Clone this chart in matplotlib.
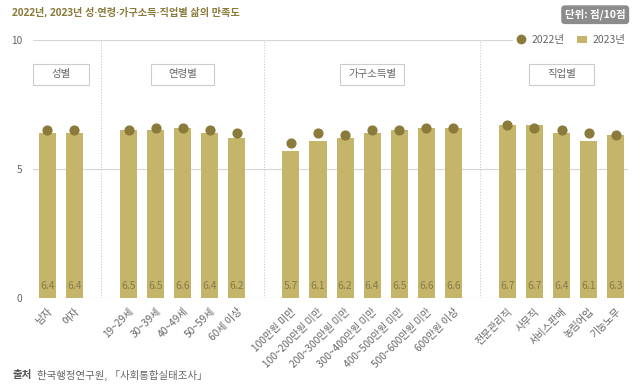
import numpy as np
import matplotlib.pyplot as plt
from matplotlib.lines import Line2D
from matplotlib.patches import Patch, Rectangle

plt.rcParams['font.family'] = ['Noto Sans CJK KR', 'DejaVu Sans']

# data
groups = ['성별', '연령별', '가구소득별', '직업별']
group_labels = [
    ['남자', '여자'],
    ['19~29세', '30~39세', '40~49세', '50~59세', '60세 이상'],
    ['100만원 미만', '100~200만원 미만', '200~300만원 미만', '300~400만원 미만',
     '400~500만원 미만', '500~600만원 미만', '600만원 이상'],
    ['전문관리직', '사무직', '서비스판매', '농림어업', '기능노무'],
]
val_2022 = [6.5, 6.5,
            6.5, 6.6, 6.6, 6.5, 6.4,
            6.0, 6.4, 6.3, 6.5, 6.5, 6.6, 6.6,
            6.7, 6.6, 6.5, 6.4, 6.3]
val_2023 = [6.4, 6.4,
            6.5, 6.5, 6.6, 6.4, 6.2,
            5.7, 6.1, 6.2, 6.4, 6.5, 6.6, 6.6,
            6.7, 6.7, 6.4, 6.1, 6.3]

bar_col = '#c5b56b'
dot_col = '#8a7b3a'
title_col = '#8a7b3a'
txt_col = '#666666'
box_w = [2.05, 2.35, 2.35, 2.4]   # group label box widths (slots)

# positions: one empty slot between groups
xs, labels, seps, centers = [], [], [], []
pos = 0
for gi, gl in enumerate(group_labels):
    start = pos
    for lab in gl:
        xs.append(pos)
        labels.append(lab)
        pos += 1
    centers.append((start + pos - 1) / 2)
    if gi < len(group_labels) - 1:
        seps.append(pos)
        pos += 1
xs = np.array(xs)

fig = plt.figure(figsize=(6.4, 3.87), dpi=100)
ax = fig.add_axes([0.052, 0.23, 0.929, 0.667])

ax.bar(xs, val_2023, width=0.63, color=bar_col, zorder=2)
ax.scatter(xs, val_2022, s=40, color=dot_col, zorder=3)

for x, v in zip(xs, val_2023):
    ax.text(x, 0.45, '%.1f' % v, ha='center', va='center', fontsize=7.5,
            color='#877c4a', zorder=4)

for s in seps:
    ax.axvline(s, color='#cccccc', linestyle=(0, (1, 1.5)), linewidth=0.8, zorder=1)

for yv in [0, 5, 10]:
    ax.axhline(yv, color='#d6d6d6', linewidth=0.8, zorder=1)

for g, c, w in zip(groups, centers, box_w):
    ax.add_patch(Rectangle((c - w / 2, 8.25), w, 0.82, fc='white', ec='#cccccc',
                           lw=0.8, zorder=5))
    ax.text(c, 8.66, g, ha='center', va='center', fontsize=7.5, color=txt_col,
            zorder=6)

ax.set_xlim(-0.52, xs[-1] + 0.45)
ax.set_ylim(0, 10)
ax.set_yticks([0, 5, 10])
ax.set_xticks(xs)
ax.set_xticklabels(labels, rotation=45, ha='right', rotation_mode='anchor',
                   fontsize=7.3, color=txt_col)
ax.tick_params(axis='both', length=0, pad=6, labelsize=7.3, labelcolor=txt_col)
ax.tick_params(axis='y', pad=8)
for sp in ax.spines.values():
    sp.set_visible(False)

handles = [Line2D([], [], marker='o', linestyle='', color=dot_col, markersize=6),
           Patch(facecolor=bar_col)]
leg = ax.legend(handles, ['2022년', '2023년'], loc='center right',
                bbox_to_anchor=(1.01, 1.0), ncol=2, fontsize=7.5, frameon=True,
                facecolor='white', edgecolor='none', framealpha=1,
                handlelength=1.0, handletextpad=0.5, columnspacing=1.2,
                borderpad=0.3)
for t in leg.get_texts():
    t.set_color(txt_col)

fig.text(0.019, 0.965, '2022년, 2023년 성·연령·가구소득·직업별 삶의 만족도',
         fontsize=7.3, fontweight='bold', color=title_col, va='center', ha='left',
         family=['Open Sans', 'Noto Sans CJK KR'])
fig.text(0.93, 0.962, '단위: 점/10점', fontsize=7.5, fontweight='bold', color='white',
         va='center', ha='center',
         bbox=dict(boxstyle='round,pad=0.35', fc='#8c8c8c', ec='none'))

fig.text(0.019, 0.03, '출처', fontsize=7.5, fontweight='bold', color='#555555',
         va='center', ha='left')
fig.text(0.058, 0.03, '한국행정연구원, 「사회통합실태조사」', fontsize=7.5,
         color=txt_col, va='center', ha='left')

plt.savefig('out.png', dpi=100)
